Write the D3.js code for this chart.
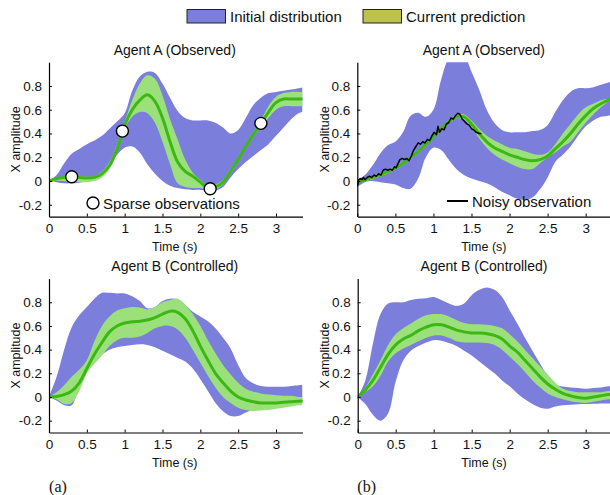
<!DOCTYPE html>
<html>
<head>
<meta charset="utf-8">
<script src="https://cdn.jsdelivr.net/npm/d3@7"></script>
<style>
  html, body { margin: 0; padding: 0; background: #fff; }
  svg { display: block; font-family: "Liberation Sans", Arial, sans-serif; }
</style>
</head>
<body>
<div id="chart"></div>
<script>
/* Four panels: initial distribution (blue band) vs current prediction
 * (green band + mean line). Values on a 0.1 s grid. */

var T = [0, 0.1, 0.2, 0.3, 0.4, 0.5, 0.6, 0.7, 0.8, 0.9,
         1.0, 1.1, 1.2, 1.3, 1.4, 1.5, 1.6, 1.7, 1.8, 1.9,
         2.0, 2.1, 2.2, 2.3, 2.4, 2.5, 2.6, 2.7, 2.8, 2.9,
         3.0, 3.1, 3.2, 3.3, 3.35];

/* (a) Agent A, sparse observations */
var aA_blueHi = [0, .05, .15, .23, .27, .31, .34, .38, .44, .5, .57, .76, .88, .92, .91, .82, .7, .59, .53, .51, .51, .51, .49, .45, .40, .43, .53, .64, .70, .74, .75, .76, .77, .78, .79];
var aA_blueLo = [0, -.01, -.02, -.02, -.015, 0, .02, .05, .13, .22, .28, .29, .24, .14, .06, 0, -.04, -.06, -.07, -.075, -.075, -.08, -.08, -.05, .03, .1, .16, .21, .26, .31, .38, .45, .52, .57, .58];
var aA_greenHi = [0, .025, .04, .045, .04, .035, .04, .08, .16, .31, .5, .68, .82, .89, .86, .72, .52, .35, .18, .07, .01, -.04, -.03, .01, .1, .2, .31, .41, .51, .63, .71, .74, .75, .75, .75];
var aA_greenLo = [0, .005, 0, -.01, -.01, -.01, 0, .03, .1, .24, .44, .54, .58, .57, .49, .33, .14, -.02, -.05, -.06, -.06, -.08, -.07, -.03, .06, .16, .27, .37, .45, .53, .6, .63, .63, .63, .63];
var aA_mean = [0, .02, .03, .035, .03, .025, .03, .06, .13, .27, .47, .6, .68, .725, .67, .53, .33, .16, .08, .04, -.01, -.06, -.05, -.01, .08, .18, .29, .39, .48, .58, .66, .69, .69, .69, .69];
var obsT = [0.3, 0.97, 2.13, 2.8];
var obsX = [0.035, 0.42, -0.065, 0.485];

/* (a) Agent B */
var aB_blueHi = [0, .17, .4, .59, .69, .76, .83, .88, .88, .875, .875, .85, .81, .75, .76, .81, .83, .825, .78, .72, .68, .64, .58, .5, .41, .27, .16, .115, .093, .087, .087, .087, .093, .1, .1];
var aB_blueLo = [0, -.03, -.07, -.07, .11, .25, .31, .36, .4, .42, .43, .44, .445, .44, .42, .39, .36, .33, .3, .24, .15, .05, -.05, -.12, -.16, -.16, -.13, -.11, -.1, -.09, -.08, -.07, -.06, -.05, -.05];
var aB_greenHi = [0, .04, .1, .17, .23, .31, .47, .6, .68, .73, .75, .76, .755, .74, .76, .8, .82, .83, .78, .7, .6, .48, .37, .27, .19, .12, .07, .045, .03, .02, .015, .01, .01, 0, 0];
var aB_greenLo = [0, -.02, -.06, -.05, .05, .2, .28, .35, .43, .48, .5, .5, .51, .54, .58, .6, .6, .57, .5, .4, .29, .18, .08, 0, -.05, -.09, -.11, -.12, -.115, -.11, -.1, -.09, -.08, -.07, -.07];
var aB_mean = [0, .005, .02, .05, .12, .24, .36, .46, .55, .6, .625, .635, .64, .65, .67, .7, .725, .715, .66, .56, .43, .31, .2, .12, .05, 0, -.025, -.04, -.05, -.05, -.05, -.045, -.04, -.035, -.035];

/* (b) Agent A, noisy observation */
var bA_blueHi = [.01, .05, .13, .23, .3, .33, .41, .55, .575, .54, .6, .85, 1.03, 1.07, 1.06, .92, .77, .6, .49, .43, .41, .41, .41, .42, .43, .47, .58, .68, .75, .78, .78, .79, .81, .83, .83];
var bA_blueLo = [-.05, -.01, 0, -.01, -.02, -.03, -.06, -.065, .02, .2, .28, .26, .18, .1, .05, .02, 0, -.02, -.05, -.09, -.12, -.15, -.16, -.14, -.07, .03, .16, .22, .29, .38, .46, .51, .54, .55, .56];
var bA_greenHi = [0, .02, .045, .065, .095, .125, .165, .215, .265, .325, .385, .455, .515, .555, .56, .51, .44, .38, .34, .31, .28, .27, .25, .23, .22, .24, .31, .4, .48, .56, .62, .65, .68, .69, .695];
var bA_greenLo = [-.02, 0, .015, .035, .065, .095, .135, .185, .235, .295, .355, .425, .485, .525, .52, .45, .36, .28, .22, .18, .15, .12, .1, .1, .15, .2, .24, .29, .33, .41, .49, .56, .62, .67, .685];
var bA_mean = [-.01, .01, .03, .05, .08, .11, .15, .2, .25, .31, .37, .44, .5, .54, .54, .48, .4, .33, .28, .25, .22, .2, .18, .17, .18, .21, .27, .33, .4, .48, .55, .61, .65, .68, .69];
var noisyT = [0, .02, .04, .06, .08, .10, .13, .16, .19, .22, .25, .28, .31, .34, .37, .40, .43, .46, .49, .51, .53, .56, .59, .62, .65, .68, .71, .74, .77, .80, .83, .86, .89, .92, .95, .98, 1.01, 1.04, 1.06, 1.08, 1.11, 1.14, 1.17, 1.20, 1.23, 1.26, 1.29, 1.32, 1.35, 1.38, 1.41, 1.44, 1.47, 1.50, 1.53, 1.56, 1.60, 1.63];
var noisyX = [-.04, .01, .02, .01, .03, .01, .03, .04, .03, .05, .04, .06, .05, .09, .10, .09, .10, .09, .12, .11, .14, .18, .19, .18, .19, .17, .21, .26, .29, .32, .31, .33, .32, .35, .34, .38, .41, .39, .46, .41, .44, .43, .48, .49, .53, .52, .55, .57, .56, .52, .50, .48, .47, .44, .43, .41, .40, .40];

/* (b) Agent B */
var bB_blueHi = [0, .14, .45, .7, .79, .8, .8, .82, .83, .835, .845, .82, .79, .77, .79, .86, .905, .925, .905, .845, .73, .62, .5, .39, .28, .18, .11, .088, .08, .076, .07, .076, .08, .09, .09];
var bB_blueLo = [0, -.06, -.15, -.2, -.14, .13, .31, .39, .43, .46, .48, .475, .455, .43, .39, .35, .3, .25, .2, .14, .09, .03, -.02, -.06, -.09, -.1, -.08, -.07, -.065, -.062, -.06, -.058, -.055, -.055, -.055];
var bB_greenHi = [0, .08, .19, .31, .44, .53, .58, .62, .66, .69, .7, .7, .68, .65, .625, .615, .615, .61, .6, .58, .53, .47, .4, .33, .26, .19, .12, .07, .05, .04, .04, .04, .04, .05, .05];
var bB_greenLo = [0, .04, .09, .18, .3, .37, .41, .44, .47, .5, .52, .52, .5, .47, .46, .46, .46, .455, .44, .4, .34, .28, .21, .14, .08, .03, 0, -.02, -.035, -.045, -.05, -.04, -.03, -.02, -.02];
var bB_mean = [0, .06, .14, .25, .36, .44, .49, .52, .56, .59, .61, .61, .59, .565, .55, .54, .54, .535, .52, .49, .43, .38, .31, .24, .17, .11, .065, .03, .01, -.005, -.01, 0, .01, .02, .02];

var xTicks = [0, 0.5, 1, 1.5, 2, 2.5, 3];
var yTicks = [-0.2, 0, 0.2, 0.4, 0.6, 0.8];
var legendLabels = ["Initial distribution", "Current prediction"];

var BLUE = "#7b7fdb", GREEN_BAND = "#9ce07c", GREEN_LINE = "#3cb814";

var W = 610, H = 495;
var svg = d3.select("#chart").append("svg")
  .attr("width", W).attr("height", H)
  .attr("viewBox", "0 0 " + W + " " + H);

var panels = [
  { id: "p1", title: "Agent A (Observed)", x0: 49, xu: 75.67, yTop: 62.2, yBot: 216.6,
    hi: aA_blueHi, lo: aA_blueLo, ghi: aA_greenHi, glo: aA_greenLo, mean: aA_mean, obs: true },
  { id: "p2", title: "Agent A (Observed)", x0: 357.3, xu: 76.13, yTop: 62.2, yBot: 216.6,
    hi: bA_blueHi, lo: bA_blueLo, ghi: bA_greenHi, glo: bA_greenLo, mean: bA_mean, noisy: true },
  { id: "p3", title: "Agent B (Controlled)", x0: 49, xu: 75.67, yTop: 278.6, yBot: 432.5,
    hi: aB_blueHi, lo: aB_blueLo, ghi: aB_greenHi, glo: aB_greenLo, mean: aB_mean, tag: "(a)" },
  { id: "p4", title: "Agent B (Controlled)", x0: 357.7, xu: 76.0, yTop: 278.6, yBot: 432.5,
    hi: bB_blueHi, lo: bB_blueLo, ghi: bB_greenHi, glo: bB_greenLo, mean: bB_mean, tag: "(b)" }
];

var defs = svg.append("defs");

panels.forEach(function (p) {
  var x = d3.scaleLinear().domain([0, 3.35]).range([p.x0, p.x0 + 3.35 * p.xu]);
  var y = d3.scaleLinear().domain([-0.3, 1.0]).range([p.yBot, p.yTop]);
  var xr = x.range();

  defs.append("clipPath").attr("id", "clip-" + p.id)
    .append("rect")
    .attr("x", xr[0]).attr("y", p.yTop)
    .attr("width", xr[1] - xr[0]).attr("height", p.yBot - p.yTop);

  var g = svg.append("g").attr("clip-path", "url(#clip-" + p.id + ")");
  var curve = d3.curveCatmullRom.alpha(0.5);

  var band = function (hiArr, loArr) {
    return d3.area()
      .x(function (d, i) { return x(T[i]); })
      .y0(function (d, i) { return y(loArr[i]); })
      .y1(function (d, i) { return y(hiArr[i]); })
      .curve(curve)(T);
  };

  g.append("path").attr("d", band(p.hi, p.lo)).attr("fill", BLUE);
  g.append("path").attr("d", band(p.ghi, p.glo)).attr("fill", GREEN_BAND);
  g.append("path")
    .attr("d", d3.line()
      .x(function (d, i) { return x(T[i]); })
      .y(function (d) { return y(d); })
      .curve(curve)(p.mean))
    .attr("fill", "none").attr("stroke", GREEN_LINE)
    .attr("stroke-width", 3).attr("stroke-linecap", "round");

  if (p.noisy) {
    g.append("path")
      .attr("d", d3.line()
        .x(function (d, i) { return x(noisyT[i]); })
        .y(function (d) { return y(d); })(noisyX))
      .attr("fill", "none").attr("stroke", "#000")
      .attr("stroke-width", 1.5).attr("stroke-linejoin", "round");
    /* in-plot legend */
    svg.append("line")
      .attr("x1", 447).attr("x2", 468).attr("y1", 201).attr("y2", 201)
      .attr("stroke", "#000").attr("stroke-width", 2);
    svg.append("text").attr("x", 472).attr("y", 206.5)
      .attr("font-size", 15).attr("fill", "#111").text("Noisy observation");
  }

  if (p.obs) {
    obsT.forEach(function (t, i) {
      svg.append("circle")
        .attr("cx", x(t)).attr("cy", y(obsX[i])).attr("r", 6)
        .attr("fill", "#fff").attr("stroke", "#000").attr("stroke-width", 1.4);
    });
    svg.append("circle").attr("cx", 93).attr("cy", 203).attr("r", 6)
      .attr("fill", "#fff").attr("stroke", "#000").attr("stroke-width", 1.4);
    svg.append("text").attr("x", 103).attr("y", 208.5)
      .attr("font-size", 15).attr("fill", "#111").text("Sparse observations");
  }

  /* axes: left + bottom only, Matlab-ish inward ticks */
  var xa = svg.append("g").attr("transform", "translate(0," + p.yBot + ")")
    .call(d3.axisBottom(x).tickValues(xTicks).tickFormat(function (d) { return String(d); })
      .tickSizeInner(-3).tickSizeOuter(0).tickPadding(7));
  var ya = svg.append("g").attr("transform", "translate(" + xr[0] + ",0)")
    .call(d3.axisLeft(y).tickValues(yTicks).tickFormat(function (d) { return String(d); })
      .tickSizeInner(-3).tickSizeOuter(0).tickPadding(7));
  [xa, ya].forEach(function (a) {
    a.selectAll("text").attr("font-size", 13.5).attr("fill", "#111")
      .attr("font-family", "Liberation Sans, Arial, sans-serif");
    a.selectAll("line").attr("stroke", "#000");
    a.select(".domain").attr("stroke", "#000").attr("stroke-width", 1.2);
  });

  svg.append("text").attr("x", (xr[0] + xr[1]) / 2 - 1).attr("y", p.yTop - 7.5)
    .attr("text-anchor", "middle").attr("font-size", 14).attr("fill", "#111")
    .text(p.title);
  svg.append("text").attr("x", (xr[0] + xr[1]) / 2 - 1).attr("y", p.yBot + 34)
    .attr("text-anchor", "middle").attr("font-size", 12.5).attr("fill", "#111")
    .text("Time (s)");
  svg.append("text")
    .attr("transform", "translate(" + (xr[0] - 33) + "," + ((p.yTop + p.yBot) / 2) + ") rotate(-90)")
    .attr("text-anchor", "middle").attr("dy", "0.35em")
    .attr("font-size", 12.5).attr("fill", "#111")
    .text("X amplitude");
  if (p.tag) {
    svg.append("text").attr("x", xr[0] + 9).attr("y", 492)
      .attr("text-anchor", "middle")
      .attr("font-family", "Liberation Serif, Times New Roman, serif")
      .attr("font-size", 16).attr("fill", "#111").text(p.tag);
  }
});

/* top legend */
var legendX = [187, 363];
var legendFill = [BLUE, "#bcc24c"];
legendLabels.forEach(function (lab, i) {
  svg.append("rect").attr("x", legendX[i]).attr("y", 9.5)
    .attr("width", 38.5).attr("height", 13.5)
    .attr("fill", legendFill[i]).attr("stroke", "#222").attr("stroke-width", 1);
  svg.append("text").attr("x", legendX[i] + 43).attr("y", 21.5)
    .attr("font-size", 15).attr("fill", "#111").text(lab);
});
</script>
</body>
</html>
